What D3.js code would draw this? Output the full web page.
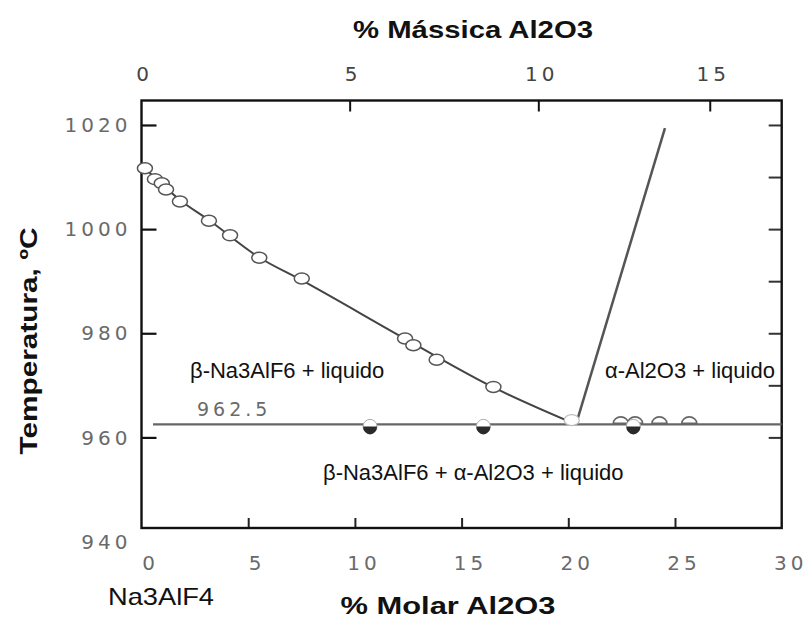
<!DOCTYPE html>
<html>
<head>
<meta charset="utf-8">
<script src="https://cdn.jsdelivr.net/npm/d3@7/dist/d3.min.js"></script>
<style>
  html, body { margin: 0; padding: 0; background: #fff; }
  svg { display: block; }
</style>
</head>
<body>
<svg id="chart" width="808" height="621"></svg>
<script>
// ---- data ----
// liquidus of β-Na3AlF6: open circles
const liqMol = [0.16, 0.63, 0.95, 1.15, 1.80, 3.16, 4.15, 5.52, 7.51, 12.35, 12.74, 13.83, 16.49];
const liqT   = [1011.7, 1009.6, 1008.8, 1007.6, 1005.3, 1001.6, 998.8, 994.5, 990.5, 979.0, 977.7, 974.9, 969.7];
// smooth liquidus curve (β-Na3AlF6 side)
const curveMol = [0.0, 1.8, 3.2, 5.5, 7.5, 12.5, 16.5, 20.36];
const curveT   = [1012.3, 1005.6, 1001.6, 994.6, 990.2, 978.6, 969.6, 962.5];
// liquidus of α-Al2O3
const aluMol = [20.36, 24.53];
const aluT   = [962.5, 1019.4];
// eutectic point
const eutMol = [20.16];
const eutT   = [963.3];
// eutectic arrests: open (upper half) and filled circles
const arrestOpenMol = [22.46, 23.13, 24.27, 25.67];
const arrestFillMol = [10.71, 16.02, 23.05];
const eutecticT = 962.5;
const eutecticLine = [0.54, 30];
// tick labels
const yTickVals = [1020, 1000, 980, 960];
const yLabelVals = [1020, 1000, 980, 960, 940];
const yRightTicks = [1020, 1010, 1000, 990, 980, 970, 960];
const xTickVals = [5, 10, 15, 20, 25];
const xLabelVals = [0, 5, 10, 15, 20, 25, 30];
const massTickVals = [0, 5, 10, 15];
const M_AL2O3 = 101.96, M_CRYO = 209.94;

// ---- layout ----
const svg = d3.select("#chart");
const L = 141.5, R = 781.7, T = 100.5, B = 528;
const x = d3.scaleLinear().domain([0, 30]).range([L, R]);
const y = d3.scaleLinear().domain([942.6, 1024.7]).range([B, T]);
const massToMol = w => 100 * (w / M_AL2O3) / (w / M_AL2O3 + (100 - w) / M_CRYO);

const tickFont = "'DejaVu Sans', sans-serif";
const tickColor = "#6a6a6a";

// axes ticks (inward)
svg.append("g").attr("transform", `translate(${L},0)`)
  .call(d3.axisLeft(y).tickValues(yTickVals).tickSize(-15).tickFormat(""))
  .call(g => g.select(".domain").remove())
  .call(g => g.selectAll("line").attr("stroke", "#111").attr("stroke-width", 2.2));
svg.append("g").attr("transform", `translate(${R},0)`)
  .call(d3.axisRight(y).tickValues(yRightTicks).tickSize(-13).tickFormat(""))
  .call(g => g.select(".domain").remove())
  .call(g => g.selectAll("line").attr("stroke", "#333").attr("stroke-width", 2));
svg.append("g").attr("transform", `translate(0,${B})`)
  .call(d3.axisBottom(x).tickValues(xTickVals).tickSize(-10).tickFormat(""))
  .call(g => g.select(".domain").remove())
  .call(g => g.selectAll("line").attr("stroke", "#222").attr("stroke-width", 2));
// top axis (mass %), non-linear mapping to the molar scale
svg.append("g").selectAll("line").data(massTickVals.filter(d => d > 0)).join("line")
  .attr("x1", d => x(massToMol(d))).attr("x2", d => x(massToMol(d)))
  .attr("y1", T).attr("y2", T + 11)
  .attr("stroke", "#111").attr("stroke-width", 2);

// frame
svg.append("rect").attr("x", L).attr("y", T).attr("width", R - L).attr("height", B - T)
  .attr("fill", "none").attr("stroke", "#111").attr("stroke-width", 2.4);

// tick labels
svg.append("g").selectAll("text").data(yLabelVals).join("text")
  .attr("x", L - 10).attr("y", d => y(d)).attr("dy", "0.36em")
  .attr("text-anchor", "end")
  .attr("font-family", tickFont).attr("font-size", 20).attr("letter-spacing", 4)
  .attr("fill", tickColor).text(d => d);
svg.append("g").selectAll("text").data(xLabelVals).join("text")
  .attr("x", d => x(d) + 9).attr("y", 563).attr("dy", "0.36em")
  .attr("text-anchor", "middle")
  .attr("font-family", tickFont).attr("font-size", 20).attr("letter-spacing", 4)
  .attr("fill", tickColor).text(d => d);
svg.append("g").selectAll("text").data(massTickVals).join("text")
  .attr("x", d => x(massToMol(d)) + 3).attr("y", 74).attr("dy", "0.36em")
  .attr("text-anchor", "middle")
  .attr("font-family", tickFont).attr("font-size", 20).attr("letter-spacing", 4)
  .attr("fill", "#444").text(d => d);

// eutectic horizontal line
svg.append("line")
  .attr("x1", x(eutecticLine[0])).attr("x2", x(eutecticLine[1]))
  .attr("y1", y(eutecticT)).attr("y2", y(eutecticT))
  .attr("stroke", "#666").attr("stroke-width", 2.2);
svg.append("text").attr("x", x(2.6)).attr("y", y(eutecticT) - 8)
  .attr("font-family", tickFont).attr("font-size", 19).attr("letter-spacing", 4)
  .attr("fill", tickColor).text("962.5");

// liquidus curves
const line = d3.line().x(d => x(d[0])).y(d => y(d[1])).curve(d3.curveMonotoneX);
svg.append("path").datum(curveMol.map((m, i) => [m, curveT[i]]))
  .attr("d", line).attr("fill", "none").attr("stroke", "#444").attr("stroke-width", 2);
svg.append("path").datum(aluMol.map((m, i) => [m, aluT[i]]))
  .attr("d", d3.line().x(d => x(d[0])).y(d => y(d[1])))
  .attr("fill", "none").attr("stroke", "#555").attr("stroke-width", 2.5);

// points
const rx = 7.5, ry = 5.5;
svg.append("g").selectAll("ellipse").data(liqMol.map((m, i) => [m, liqT[i]])).join("ellipse")
  .attr("cx", d => x(d[0])).attr("cy", d => y(d[1])).attr("rx", rx).attr("ry", ry)
  .attr("fill", "#fff").attr("stroke", "#555").attr("stroke-width", 1.5);
svg.append("g").selectAll("ellipse").data(eutMol.map((m, i) => [m, eutT[i]])).join("ellipse")
  .attr("cx", d => x(d[0])).attr("cy", d => y(d[1])).attr("rx", rx).attr("ry", ry)
  .attr("fill", "#fff").attr("stroke", "#bbb").attr("stroke-width", 1.2);

const upperHalf = d3.arc().innerRadius(0).outerRadius(1).startAngle(-Math.PI / 2).endAngle(Math.PI / 2);
const lowerHalf = d3.arc().innerRadius(0).outerRadius(1).startAngle(Math.PI / 2).endAngle(3 * Math.PI / 2);
svg.append("g").selectAll("path").data(arrestOpenMol).join("path")
  .attr("transform", d => `translate(${x(d)},${y(eutecticT) - 1}) scale(${rx},${ry + 1})`)
  .attr("d", upperHalf).attr("fill", "#fff").attr("stroke", "#666")
  .attr("vector-effect", "non-scaling-stroke")
  .style("stroke-width", "1.6px");
const fillG = svg.append("g").selectAll("g").data(arrestFillMol).join("g")
  .attr("transform", d => `translate(${x(d)},${y(eutecticT) + 2})`);
fillG.append("ellipse").attr("rx", 7).attr("ry", 7)
  .attr("fill", "#fff").attr("stroke", "#aaa").attr("stroke-width", 1);
fillG.append("path").attr("transform", "scale(7,8)").attr("d", lowerHalf).attr("fill", "#2a2a2a");

// region labels
const labFont = "'Liberation Sans', Arial, sans-serif";
svg.append("text").attr("x", 190).attr("y", 378).attr("font-family", labFont).attr("font-size", 22)
  .attr("fill", "#111").text("β-Na3AlF6 + liquido");
svg.append("text").attr("x", 605).attr("y", 378).attr("font-family", labFont).attr("font-size", 22)
  .attr("fill", "#111").text("α-Al2O3 + liquido");
svg.append("text").attr("x", 323).attr("y", 480).attr("font-family", labFont).attr("font-size", 22)
  .attr("fill", "#111").text("β-Na3AlF6 + α-Al2O3 + liquido");
svg.append("text").attr("x", 108).attr("y", 605).attr("font-family", labFont).attr("font-size", 24)
  .attr("textLength", 106).attr("lengthAdjust", "spacingAndGlyphs")
  .attr("fill", "#111").text("Na3AlF4");

// axis titles
svg.append("text").attr("x", 473).attr("y", 38).attr("text-anchor", "middle")
  .attr("font-family", labFont).attr("font-weight", "bold").attr("font-size", 24)
  .attr("textLength", 240).attr("lengthAdjust", "spacingAndGlyphs")
  .attr("fill", "#111").text("% Mássica Al2O3");
svg.append("text").attr("x", 448).attr("y", 614).attr("text-anchor", "middle")
  .attr("font-family", labFont).attr("font-weight", "bold").attr("font-size", 24)
  .attr("textLength", 215).attr("lengthAdjust", "spacingAndGlyphs")
  .attr("fill", "#111").text("% Molar Al2O3");
svg.append("text").attr("transform", "translate(37,341) rotate(-90)").attr("text-anchor", "middle")
  .attr("font-family", labFont).attr("font-weight", "bold").attr("font-size", 24)
  .attr("textLength", 227).attr("lengthAdjust", "spacingAndGlyphs")
  .attr("fill", "#111").text("Temperatura, ºC");
</script>
</body>
</html>
